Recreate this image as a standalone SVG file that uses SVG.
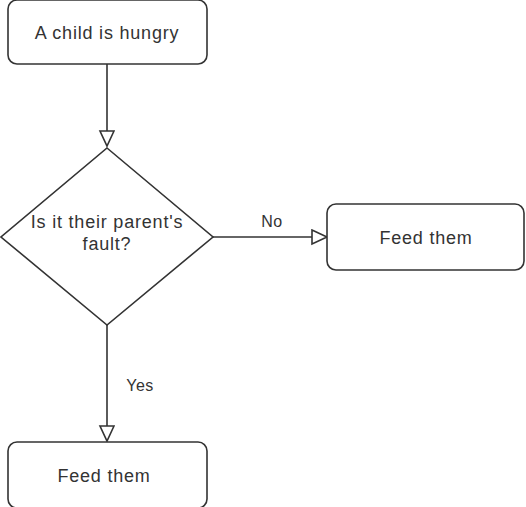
<svg xmlns="http://www.w3.org/2000/svg" width="526" height="507" viewBox="0 0 526 507">
<defs>
<style>
.n{fill:#fff;stroke:#333;stroke-width:1.6}
.t{font-family:"Liberation Sans",Arial,sans-serif;font-size:18px;letter-spacing:0.8px;fill:#333;text-anchor:middle}
.l{font-family:"Liberation Sans",Arial,sans-serif;font-size:16px;letter-spacing:0.5px;fill:#333;text-anchor:middle}
.c{fill:none;stroke:#333;stroke-width:1.6}
</style>
<marker id="a" markerWidth="20" markerHeight="20" refX="16" refY="8" orient="auto" markerUnits="userSpaceOnUse">
<path d="M1,1 L16,8 L1,15 Z" fill="#fff" stroke="#333" stroke-width="1.6"/>
</marker>
</defs>
<rect width="526" height="507" fill="#fff"/>
<g id="connectors">
<path class="c" d="M107,64 L107,146" marker-end="url(#a)"/>
<path class="c" d="M213,237 L327,237" marker-end="url(#a)"/>
<path class="c" d="M107,325 L107,441" marker-end="url(#a)"/>
<text class="l" x="272" y="227">No</text>
<text class="l" x="140" y="391">Yes</text>
</g>
<g id="start">
<rect class="n" x="8" y="0" width="199" height="64" rx="9"/>
<text class="t" x="107" y="39">A child is hungry</text>
</g>
<g id="decision">
<polygon class="n" points="107,148 213,237 107,325 1,237"/>
<text class="t" x="107" y="228">Is it their parent's</text>
<text class="t" x="107" y="250">fault?</text>
</g>
<g id="feed-right">
<rect class="n" x="327" y="204" width="197" height="66" rx="9"/>
<text class="t" x="426" y="244">Feed them</text>
</g>
<g id="feed-bottom">
<rect class="n" x="8" y="442" width="199" height="66" rx="9"/>
<text class="t" x="104" y="482">Feed them</text>
</g>
</svg>
